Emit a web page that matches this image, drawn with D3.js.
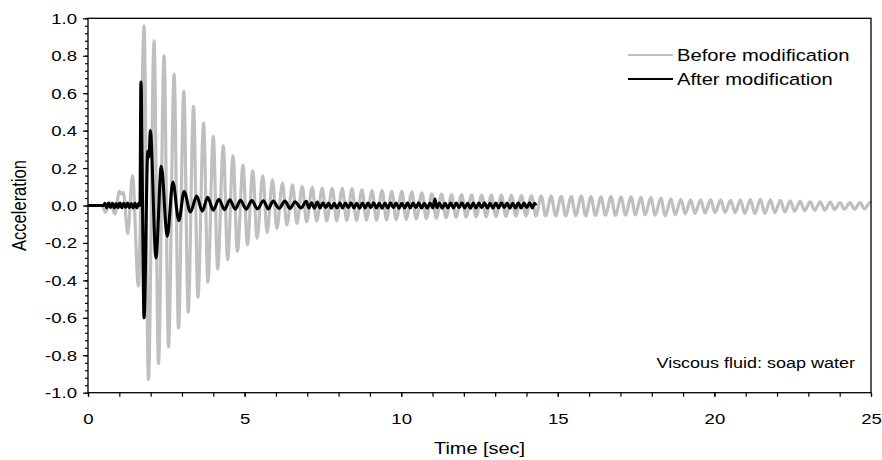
<!DOCTYPE html>
<html><head><meta charset="utf-8">
<script src="https://cdn.jsdelivr.net/npm/d3@7"></script>
<style>
body{margin:0;background:#fff}
svg text{font-family:"Liberation Sans",Arial,sans-serif;fill:#000}
</style>
</head><body>
<svg id="chart" width="882" height="460"></svg>
<script>
// ---- data ----
const xTickValues = [0, 5, 10, 15, 20, 25];
const xTickLabels = ["0", "5", "10", "15", "20", "25"];
const yTickValues = [-1.0, -0.8, -0.6, -0.4, -0.2, 0.0, 0.2, 0.4, 0.6, 0.8, 1.0];
const yTickLabels = ["-1.0", "-0.8", "-0.6", "-0.4", "-0.2", "0.0", "0.2", "0.4", "0.6", "0.8", "1.0"];
const seriesNames = ["Before modification", "After modification"];
const annotation = "Viscous fluid: soap water";
const xTitle = "Time [sec]";
const yTitle = "Acceleration";

// Before modification: [time, acceleration] at each local extreme
const beforeData = [
[0,0],[0.45,0],[0.55,-0.035],[0.72,0.015],[0.86,-0.045],[1.00,0.075],[1.07,0.06],[1.13,0.07],[1.27,-0.15],[1.42,0.16],[1.61,-0.43],
[1.79,0.96],[1.93,-0.93],[2.11,0.88],[2.25,-0.845],[2.43,0.80],[2.57,-0.755],[2.75,0.70],[2.89,-0.655],
[3.06,0.61],[3.20,-0.57],[3.37,0.53],[3.51,-0.49],[3.69,0.44],[3.83,-0.41],[4.00,0.37],[4.14,-0.34],
[4.32,0.32],[4.46,-0.29],[4.63,0.265],[4.77,-0.245],[4.95,0.215],[5.09,-0.21],[5.26,0.185],[5.40,-0.175],
[5.58,0.16],[5.72,-0.145],[5.89,0.137],[6.03,-0.122],[6.21,0.12],[6.35,-0.105],[6.53,0.11],[6.67,-0.096],
[6.84,0.102],[6.98,-0.087],[7.16,0.097],[7.30,-0.083],[7.48,0.093],[7.62,-0.082],[7.80,0.092],[7.94,-0.082],
[8.12,0.092],[8.26,-0.08],[8.43,0.09],[8.57,-0.08],[8.75,0.085],[8.89,-0.078],[9.07,0.08],[9.21,-0.078],
[9.39,0.08],[9.53,-0.077],[9.70,0.076],[9.84,-0.076],[10.02,0.075],[10.16,-0.074],[10.34,0.073],[10.48,-0.072],
[10.66,0.068],[10.80,-0.07],[10.98,0.062],[11.12,-0.068],[11.29,0.061],[11.43,-0.065],[11.61,0.058],[11.75,-0.063],
[11.93,0.058],[12.07,-0.062],[12.25,0.057],[12.39,-0.06],[12.57,0.056],[12.71,-0.06],[12.88,0.056],[13.02,-0.058],
[13.20,0.055],[13.34,-0.058],[13.52,0.054],[13.66,-0.057],[13.84,0.053],[13.98,-0.056],[14.16,0.052],[14.30,-0.056],
[14.47,0.05],[14.61,-0.056],[14.79,0.05],[14.93,-0.055],[15.11,0.049],[15.25,-0.055],[15.43,0.048],[15.57,-0.054],
[15.75,0.05],[15.89,-0.055],[16.06,0.048],[16.20,-0.053],[16.38,0.046],[16.52,-0.052],[16.70,0.047],[16.84,-0.053],
[17.02,0.045],[17.16,-0.051],[17.34,0.046],[17.48,-0.05],[17.65,0.044],[17.79,-0.05],[17.97,0.042],[18.11,-0.052],
[18.29,0.04],[18.43,-0.055],[18.61,0.035],[18.75,-0.05],[18.93,0.033],[19.07,-0.045],[19.24,0.03],[19.38,-0.042],
[19.56,0.03],[19.70,-0.04],[19.88,0.032],[20.02,-0.038],[20.20,0.03],[20.34,-0.036],[20.52,0.028],[20.66,-0.038],
[20.83,0.03],[20.97,-0.042],[21.15,0.032],[21.29,-0.044],[21.47,0.033],[21.61,-0.042],[21.79,0.03],[21.93,-0.038],
[22.11,0.028],[22.25,-0.035],[22.42,0.025],[22.56,-0.03],[22.74,0.022],[22.88,-0.028],[23.06,0.02],[23.20,-0.026],
[23.38,0.02],[23.52,-0.025],[23.70,0.018],[23.84,-0.022],[24.01,0.016],[24.15,-0.02],[24.33,0.015],[24.47,-0.02],
[24.65,0.016],[24.79,-0.018],[24.97,0.015],[25.00,0.012]
];

// After modification: [time, acceleration]
const afterData = [
[0,0],[0.50,0],[0.54,0.012],[0.60,-0.012],[0.66,0.013],[0.72,-0.011],[0.78,0.012],[0.84,-0.013],[0.90,0.011],[0.96,-0.012],
[1.02,0.013],[1.08,-0.012],[1.14,0.012],[1.20,-0.011],[1.26,0.013],[1.32,-0.012],[1.38,0.011],[1.44,-0.013],[1.50,0.012],
[1.56,-0.012],[1.62,0.012],[1.66,0.0],
[1.69,0.66],[1.79,-0.60],[1.91,0.29],[1.95,0.26],[1.99,0.40],[2.17,-0.28],[2.34,0.21],[2.53,-0.165],[2.71,0.125],
[2.90,-0.08],[3.07,0.075],[3.27,-0.035],[3.47,0.05],[3.65,-0.03],[3.82,0.044],[4.00,-0.025],[4.18,0.033],[4.36,-0.022],
[4.53,0.03],[4.70,-0.02],[4.87,0.028],[5.05,-0.02],[5.23,0.026],[5.41,-0.018],[5.60,0.025],[5.76,-0.018],[5.91,0.024],
[6.10,-0.015],[6.29,0.024],[6.45,-0.016],[6.61,0.02],[6.80,-0.013],[6.97,0.022],[7.05,-0.013],[7.14,0.015],[7.23,-0.014],
[7.32,0.018],[7.41,-0.013],[7.50,0.014],[7.59,-0.012],[7.68,0.013],[7.77,-0.014],[7.86,0.012],[7.95,-0.013],[8.04,0.014],
[8.13,-0.013],[8.22,0.013],[8.31,-0.012],[8.40,0.014],[8.49,-0.013],[8.58,0.012],[8.67,-0.014],[8.76,0.013],[8.85,-0.013],
[8.94,0.013],[9.03,-0.012],[9.12,0.014],[9.21,-0.013],[9.30,0.012],[9.39,-0.014],[9.48,0.013],[9.57,-0.013],[9.66,0.014],
[9.75,-0.012],[9.84,0.013],[9.93,-0.014],[10.02,0.012],[10.11,-0.013],[10.20,0.014],[10.29,-0.013],[10.38,0.013],
[10.47,-0.012],[10.56,0.014],[10.65,-0.013],[10.74,0.012],[10.83,-0.014],[10.92,0.013],[11.01,-0.013],[11.08,0.035],
[11.14,-0.012],[11.22,0.013],[11.31,-0.014],[11.40,0.012],[11.49,-0.013],[11.58,0.014],[11.67,-0.013],[11.76,0.013],
[11.85,-0.012],[11.94,0.014],[12.03,-0.013],[12.12,0.012],[12.21,-0.014],[12.30,0.013],[12.39,-0.013],[12.48,0.013],
[12.57,-0.012],[12.66,0.014],[12.75,-0.013],[12.84,0.012],[12.93,-0.014],[13.02,0.013],[13.11,-0.013],[13.20,0.014],
[13.29,-0.012],[13.38,0.013],[13.47,-0.014],[13.56,0.012],[13.65,-0.013],[13.74,0.014],[13.83,-0.013],[13.92,0.013],
[14.01,-0.012],[14.10,0.014],[14.19,-0.013],[14.26,0.012],[14.30,0.0]
];

// ---- layout ----
const W = 882, H = 460;
const m = {left: 88, right: 11, top: 18.3, bottom: 67.3};
const SX = 1.2;          // horizontal stretch of lettering in the reference
const tickFont = 15.5;
const svg = d3.select("#chart");
const x = d3.scaleLinear().domain([0, 25]).range([m.left, W - m.right]);
const y = d3.scaleLinear().domain([-1, 1]).range([H - m.bottom, m.top]);
const colors = ["#bfbfbf", "#000000"];

const xMinor = d3.range(0, 25.001, 1);
const yMinor = d3.range(-1, 1.0001, 0.04).map(v => +v.toFixed(2));

const lineBefore = d3.line().x(d => x(d[0])).y(d => y(d[1])).curve(d3.curveMonotoneX);
const lineAfter = d3.line().x(d => x(d[0])).y(d => y(d[1])).curve(d3.curveMonotoneX);

svg.append("path").datum(beforeData).attr("d", lineBefore)
  .attr("fill", "none").attr("stroke", colors[0]).attr("stroke-width", 3.2).attr("stroke-linejoin", "round");
svg.append("path").datum(afterData).attr("d", lineAfter)
  .attr("fill", "none").attr("stroke", colors[1]).attr("stroke-width", 3.1).attr("stroke-linejoin", "round");

// frame
svg.append("rect").attr("x", x(0)).attr("y", y(1)).attr("width", x(25) - x(0)).attr("height", y(-1) - y(1))
  .attr("fill", "none").attr("stroke", "#000").attr("stroke-width", 1.3);

// x axis
svg.append("g").attr("transform", `translate(0,${y(-1)})`)
  .call(d3.axisBottom(x).tickValues(xMinor).tickSize(4).tickFormat(""))
  .call(g => g.select(".domain").remove());
svg.append("g").attr("transform", `translate(0,${y(-1)})`)
  .call(d3.axisBottom(x).tickValues(xTickValues).tickSize(4).tickPadding(16).tickFormat((d, i) => xTickLabels[i]))
  .call(g => g.select(".domain").remove())
  .call(g => g.selectAll("text").attr("font-size", tickFont).attr("font-family", null)
    .attr("transform", `scale(${SX},1)`));

// y axis
svg.append("g").attr("transform", `translate(${x(0)},0)`)
  .call(d3.axisLeft(y).tickValues(yMinor).tickSize(3).tickFormat(""))
  .call(g => g.select(".domain").remove());
svg.append("g").attr("transform", `translate(${x(0)},0)`)
  .call(d3.axisLeft(y).tickValues(yTickValues).tickSize(5).tickPadding(6).tickFormat((d, i) => yTickLabels[i]))
  .call(g => g.select(".domain").remove())
  .call(g => g.selectAll("text").attr("font-size", tickFont).attr("font-family", null)
    .attr("x", -11 / SX).attr("transform", `scale(${SX},1)`));

svg.selectAll(".tick line").attr("stroke", "#000").attr("stroke-width", 1.2);

// titles
svg.append("text").attr("transform", `translate(${(x(0) + x(25)) / 2},454) scale(${SX},1)`)
  .attr("text-anchor", "middle").attr("font-size", 16.6).text(xTitle);
svg.append("text").attr("transform", `translate(26,${(y(1) + y(-1)) / 2}) scale(${SX},1) rotate(-90)`)
  .attr("text-anchor", "middle").attr("font-size", 16.5).text(yTitle);

// legend
const legY = [55, 79];
seriesNames.forEach((name, i) => {
  svg.append("line").attr("x1", 628).attr("x2", 673).attr("y1", legY[i]).attr("y2", legY[i])
    .attr("stroke", colors[i]).attr("stroke-width", 2);
  svg.append("text").attr("transform", `translate(677,${legY[i]}) scale(${SX},1)`)
    .attr("dy", "0.36em").attr("font-size", 16.8).text(name);
});

// annotation
svg.append("text").attr("transform", `translate(855,368) scale(${SX},1)`)
  .attr("text-anchor", "end").attr("font-size", 15).text(annotation);
</script>
</body></html>
